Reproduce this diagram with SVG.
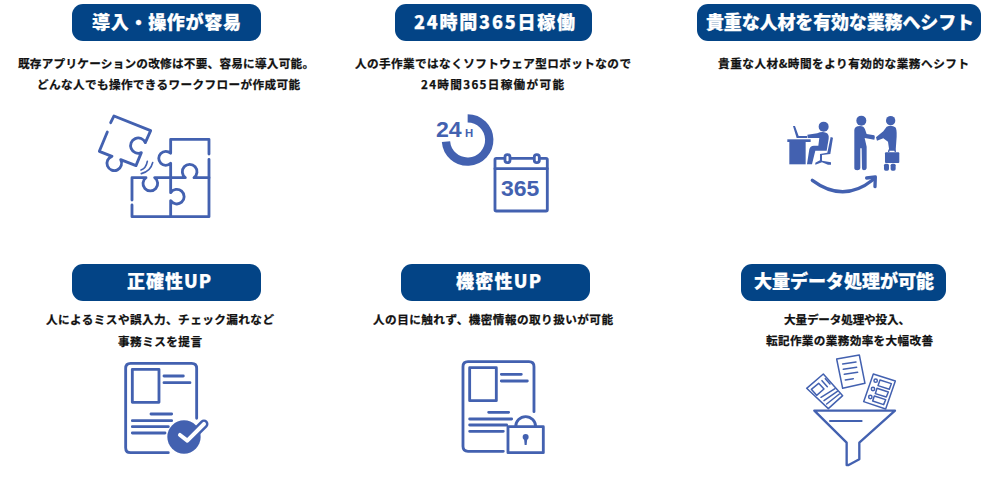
<svg xmlns="http://www.w3.org/2000/svg" width="1000" height="477" viewBox="0 0 1000 477">
<style>
.pill{fill:#034486}
.t{font-family:"Noto Sans CJK JP","Liberation Sans",sans-serif;font-weight:900;fill:#fff;font-size:18px;stroke:#fff;stroke-width:.25px}
.b{font-family:"Noto Sans CJK JP","Liberation Sans",sans-serif;font-weight:700;fill:#111;font-size:11.6px;stroke:#111;stroke-width:.25px}
.i{fill:none;stroke:#4361b0;stroke-width:8.5;stroke-linecap:round;stroke-linejoin:round}
.f{fill:#4361b0}
.n{font-family:"Liberation Sans",Arial,sans-serif;font-weight:700;fill:#4361b0}
.s{stroke-width:4.5}
</style>
<rect width="1000" height="477" fill="#fff"/>

<g id="card-ease">
<rect class="pill" x="72" y="4" width="189" height="37" rx="11"/>
<text class="t" x="92" y="28.5" textLength="149" lengthAdjust="spacing">導入・操作が容易</text>
<text class="b" x="18" y="68" textLength="296" lengthAdjust="spacing">既存アプリケーションの改修は不要、容易に導入可能。</text>
<text class="b" x="37" y="89" textLength="263" lengthAdjust="spacing">どんな人でも操作できるワークフローが作成可能</text>
<g class="i" transform="translate(60,0) scale(.3333)">
<path d="M152 368L162 348L272 392L256 428A23 23 0 1 0 244 458L228 497L182 479A22 22 0 1 1 156 469L118 454L142 396"/>
<path d="M447 462L447 418L332 418L332 460A21 21 0 1 0 332 490L332 578A22 22 0 1 1 332 602L332 650"/>
<path d="M216 615L216 650L447 650L447 478"/>
<path d="M216 600L216 533L258 533A22 22 0 1 0 284 533L376 533A22 22 0 1 1 402 533L447 533"/>
<path d="M243 510Q258 505 262 484" style="stroke-width:5"/>
<path d="M244 521Q272 514 278 488" style="stroke-width:5"/>
</g>
</g>

<g id="card-24h">
<rect class="pill" x="395" y="4" width="197" height="37" rx="11"/>
<text class="t" x="414" y="28.5" textLength="161" lengthAdjust="spacing">24時間365日稼働</text>
<text class="b" x="355" y="68" textLength="276" lengthAdjust="spacing">人の手作業ではなくソフトウェア型ロボットなので</text>
<text class="b" x="421" y="89" textLength="143" lengthAdjust="spacing">24時間365日稼働が可能</text>
<g transform="translate(350,0) scale(.3333)">
<path d="M353 355A65 65 0 1 1 288 425" fill="none" stroke="#4361b0" stroke-width="25"/>
<text class="n" x="258" y="412" font-size="68" textLength="77" lengthAdjust="spacingAndGlyphs">24</text>
<text class="n" x="345" y="412" font-size="34">H</text>
<g class="i">
<rect x="435" y="475" width="157" height="158" rx="4"/>
<path d="M435 506L592 506"/>
<rect x="465" y="464" width="15" height="24" rx="7" fill="#fff"/>
<rect x="553" y="464" width="15" height="24" rx="7" fill="#fff"/>
</g>
<text class="n" x="453" y="587" font-size="66" textLength="115" lengthAdjust="spacingAndGlyphs">365</text>
</g>
</g>

<g id="card-shift">
<rect class="pill" x="697" y="4" width="284" height="37" rx="11"/>
<text class="t" x="706" y="28.5" textLength="268" lengthAdjust="spacing">貴重な人材を有効な業務へシフト</text>
<text class="b" x="718" y="68" textLength="251" lengthAdjust="spacing">貴重な人材&amp;時間をより有効的な業務へシフト</text>
<g transform="translate(690,0) scale(.3333)">
<g class="f">
<rect x="292" y="418" width="70" height="8"/>
<rect x="298" y="426" width="49" height="67"/>
<path d="M309 378L315 378L326 408L352 408L352 414L320 414Z"/>
<circle cx="401" cy="380" r="15"/>
<path d="M352 404L382 400Q395 394 408 398Q418 402 416 416L410 452L376 452L366 493L351 493L358 448Q360 438 372 437L385 437L388 414L354 414Z"/>
<path d="M422 411L429 413L421 462L396 465L396 482L423 487L423 494L414 494L396 487L376 494L376 488L390 481L390 462L412 458Z"/>
<circle cx="514" cy="362" r="15"/>
<path d="M493 390Q494 378 510 378Q522 378 525 388L530 402L553 406Q557 412 553 419L524 414L530 440L530 505Q529 511 522 511Q516 511 516 505L515 445L511 445L511 505Q510 511 502 511Q493 511 493 505L493 430Z"/>
<circle cx="602" cy="362" r="14"/>
<path d="M590 380Q605 374 616 382Q621 388 620 410L617 452L598 452L594 425L580 415L561 422L558 412L580 394Z"/>
<rect x="585" y="457" width="43" height="32" rx="3"/>
<rect x="582" y="491" width="15" height="21" rx="5"/>
<rect x="602" y="491" width="15" height="21" rx="5"/>
</g>
<path d="M596 456Q596 446 606 446Q616 446 616 456" fill="none" stroke="#4361b0" stroke-width="4"/>
<g class="i" style="stroke-width:10">
<path d="M367 541Q460 610 548 540"/>
<path d="M530 534L556 531L555 560"/>
</g>
</g>
</g>

<g id="card-accuracy">
<rect class="pill" x="72" y="264" width="189" height="37" rx="11"/>
<text class="t" x="127" y="288" textLength="84" lengthAdjust="spacing">正確性UP</text>
<text class="b" x="46" y="324" textLength="228" lengthAdjust="spacing">人によるミスや誤入力、チェック漏れなど</text>
<text class="b" x="118" y="346" textLength="84" lengthAdjust="spacing">事務ミスを提言</text>
<g transform="translate(40,250) scale(.3333)">
<g class="i">
<path d="M385 608L272 608Q257 608 257 593L257 355Q257 340 272 340L455 340Q470 340 470 355L470 505"/>
<rect x="277" y="358" width="80" height="99"/>
<path d="M372 378L430 378M372 398L450 398M333 492L395 492M277 512L395 512M277 530L385 530M277 549L375 549"/>
</g>
<circle class="f" cx="432" cy="561" r="50"/>
<path d="M420 555L442 572L492 522" fill="none" stroke="#4361b0" stroke-width="27" stroke-linecap="round" stroke-linejoin="round"/>
<path d="M420 555L442 572L492 522" fill="none" stroke="#fff" stroke-width="12" stroke-linecap="round" stroke-linejoin="round"/>
</g>
</g>

<g id="card-secrecy">
<rect class="pill" x="401" y="264" width="189" height="37" rx="11"/>
<text class="t" x="456" y="288" textLength="85" lengthAdjust="spacing">機密性UP</text>
<text class="b" x="373" y="324" textLength="240" lengthAdjust="spacing">人の目に触れず、機密情報の取り扱いが可能</text>
<g transform="translate(360,250) scale(.3333)">
<g class="i">
<path d="M430 604L324 604Q309 604 309 589L309 350Q309 335 324 335L507 335Q522 335 522 350L522 485"/>
<rect x="329" y="353" width="80" height="99"/>
<path d="M424 373L484 373M424 393L502 393M386 487L446 487M329 507L455 507M329 525L440 525M329 544L430 544"/>
<rect x="444" y="530" width="106" height="78"/>
<path d="M467 530A30 30 0 0 1 527 530"/>
</g>
<circle class="f" cx="497" cy="561" r="9"/>
<path class="f" d="M492 563L502 563L500 585L494 585Z"/>
</g>
</g>

<g id="card-volume">
<rect class="pill" x="741" y="264" width="205" height="37" rx="11"/>
<text class="t" x="754" y="288" textLength="180" lengthAdjust="spacing">大量データ処理が可能</text>
<text class="b" x="784" y="324" textLength="126" lengthAdjust="spacing">大量データ処理や投入、</text>
<text class="b" x="766" y="345" textLength="167" lengthAdjust="spacing">転記作業の業務効率を大幅改善</text>
<g transform="translate(720,250) scale(.3333)">
<g class="i">
<path d="M283 482L525 482L418 578L418 628L386 645L380 645L380 578Z" style="stroke-width:7"/>
<path d="M330 513L425 513" style="stroke-width:6"/>
</g>
<g class="i s">
<path d="M350 327L418 315L435 400L368 415Z"/>
<path d="M368 342L408 336M370 358L410 352M373 373L413 367M376 390L400 386"/>
<path d="M460 372L526 393L497 477L431 455Z"/>
<circle cx="467" cy="392" r="5"/><circle cx="459" cy="417" r="5"/><circle cx="451" cy="441" r="5"/>
<path d="M480 390L514 401L508 418L474 407Z"/>
<path d="M471 415L505 426L499 441L466 431Z"/>
<path d="M463 438L497 449L491 464L458 453Z"/>
<path d="M310 372L368 437L325 476L260 415Z"/>
<path d="M274 418L296 400L312 417L290 436Z"/>
<path d="M306 392L322 410M316 386L330 402"/>
<path d="M303 442L345 416M312 452L352 424M320 462L358 432"/>
</g>
</g>
</g>
</svg>
